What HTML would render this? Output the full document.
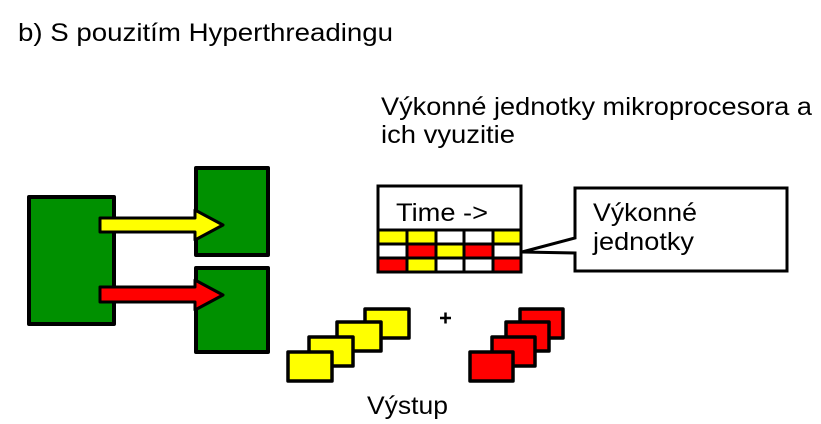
<!DOCTYPE html>
<html><head><meta charset="utf-8"><style>html,body{margin:0;padding:0;background:#fff}svg{display:block}</style></head>
<body>
<svg width="821" height="424" viewBox="0 0 821 424" xmlns="http://www.w3.org/2000/svg" font-family="Liberation Sans, Arial, sans-serif">
<text x="18" y="41" font-size="25" textLength="375" lengthAdjust="spacingAndGlyphs">b) S pouzitím Hyperthreadingu</text>
<text x="381" y="115" font-size="25" textLength="431" lengthAdjust="spacingAndGlyphs">Výkonné jednotky mikroprocesora a</text>
<text x="381" y="143" font-size="25" textLength="134" lengthAdjust="spacingAndGlyphs">ich vyuzitie</text>
<text x="367" y="414" font-size="25" textLength="81" lengthAdjust="spacingAndGlyphs">Výstup</text>

<g stroke="#000" stroke-width="4" stroke-linejoin="round">
<rect x="29" y="197" width="85" height="127" fill="#009000"/>
<rect x="196" y="168" width="72" height="87" fill="#009000"/>
<rect x="196" y="268" width="72" height="84" fill="#009000"/>
<polygon points="100,218 195,218 195,210 223,225 195,240 195,232 100,232" fill="#ffff00" stroke-width="3"/>
<polygon points="100,287 195,287 195,280 223,295 195,310 195,302 100,302" fill="#ff0000" stroke-width="3"/>
</g>

<g stroke="#000" stroke-width="3">
<rect x="378" y="186" width="143" height="86" fill="#fff"/>
<rect x="378" y="230" width="29" height="14" fill="#ff0"/><rect x="407" y="230" width="29" height="14" fill="#ff0"/>
<rect x="436" y="230" width="28" height="14" fill="#fff"/><rect x="464" y="230" width="29" height="14" fill="#fff"/>
<rect x="493" y="230" width="28" height="14" fill="#ff0"/>
<rect x="378" y="244" width="29" height="14" fill="#fff"/><rect x="407" y="244" width="29" height="14" fill="#f00"/>
<rect x="436" y="244" width="28" height="14" fill="#ff0"/><rect x="464" y="244" width="29" height="14" fill="#f00"/>
<rect x="493" y="244" width="28" height="14" fill="#fff"/>
<rect x="378" y="258" width="29" height="14" fill="#f00"/><rect x="407" y="258" width="29" height="14" fill="#ff0"/>
<rect x="436" y="258" width="28" height="14" fill="#fff"/><rect x="464" y="258" width="29" height="14" fill="#fff"/>
<rect x="493" y="258" width="28" height="14" fill="#f00"/>
<rect x="378" y="186" width="143" height="86" fill="none"/>
<polygon points="575,188 787,188 787,271 575,271 575,253 522,252 575,238" fill="#fff"/>
</g>
<text x="396" y="221" font-size="25" textLength="92" lengthAdjust="spacingAndGlyphs">Time -&gt;</text>
<text x="593" y="221" font-size="25" textLength="104" lengthAdjust="spacingAndGlyphs">Výkonné</text>
<text x="593" y="250" font-size="25" textLength="101" lengthAdjust="spacingAndGlyphs">jednotky</text>

<g stroke="#000" stroke-width="3.5" stroke-linejoin="round">
<rect x="365" y="309" width="44" height="29" fill="#ff0"/>
<rect x="337" y="322" width="44" height="29" fill="#ff0"/>
<rect x="309" y="337" width="44" height="29" fill="#ff0"/>
<rect x="288" y="352" width="44" height="29" fill="#ff0"/>
<rect x="520" y="309" width="43" height="29" fill="#f00"/>
<rect x="506" y="322" width="43" height="29" fill="#f00"/>
<rect x="492" y="337" width="43" height="29" fill="#f00"/>
<rect x="470" y="352" width="43" height="29" fill="#f00"/>
</g>
<path d="M440 318 H451 M445.5 312.5 V323.5" stroke="#000" stroke-width="2.5"/>
</svg>
</body></html>
